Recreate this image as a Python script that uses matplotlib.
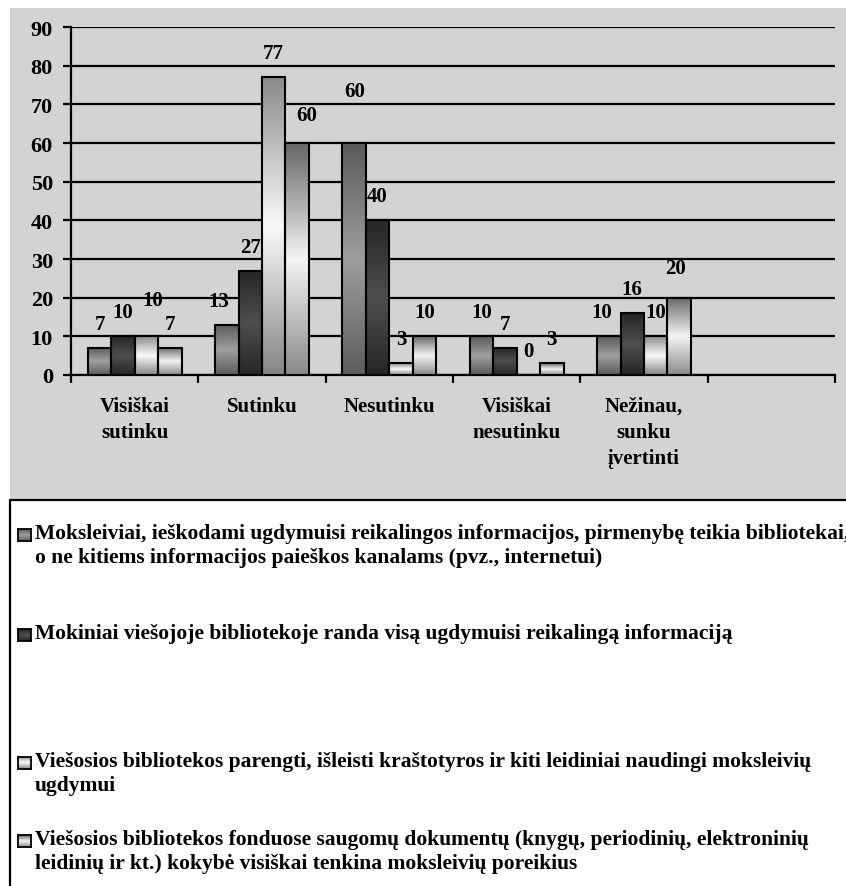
import numpy as np
import matplotlib
matplotlib.use("Agg")
import matplotlib.pyplot as plt
from matplotlib.patches import Rectangle
from matplotlib.colors import LinearSegmentedColormap

plt.rcParams['font.family'] = ['Liberation Serif', 'DejaVu Serif']
plt.rcParams['font.weight'] = 'bold'

# duomenys
kategorijos = ['Visiškai\nsutinku', 'Sutinku', 'Nesutinku', 'Visiškai\nnesutinku',
               'Nežinau,\nsunku\nįvertinti']
serija1 = [7, 13, 60, 10, 10]
serija2 = [10, 27, 40, 7, 16]
serija3 = [10, 77, 3, 0, 10]
serija4 = [7, 60, 10, 3, 20]
pavadinimai = [
    'Moksleiviai, ieškodami ugdymuisi reikalingos informacijos, pirmenybę teikia bibliotekai,\n'
    'o ne kitiems informacijos paieškos kanalams (pvz., internetui)',
    'Mokiniai viešojoje bibliotekoje randa visą ugdymuisi reikalingą informaciją',
    'Viešosios bibliotekos parengti, išleisti kraštotyros ir kiti leidiniai naudingi moksleivių\n'
    'ugdymui',
    'Viešosios bibliotekos fonduose saugomų dokumentų (knygų, periodinių, elektroninių\n'
    'leidinių ir kt.) kokybė visiškai tenkina moksleivių poreikius',
]
y_ticks = [0, 10, 20, 30, 40, 50, 60, 70, 80, 90]

# etikeciu pastumimai (serija, kategorija) -> (dx, dy) pikseliais
pastumimai = {(2, 0): (6, 12), (0, 1): (-8, 0), (3, 1): (10, 4),
              (0, 2): (0, 28), (0, 4): (-7, 0), (3, 4): (-4, 6)}

# gradientai (virsus -> apacia)
gradientai = [
    ['#5a5a5a', '#9e9e9e', '#5c5c5c'],
    ['#262626', '#4e4e4e', '#262626'],
    ['#8a8a8a', '#fafafa', '#858585'],
    ['#666666', '#f4f4f4', '#8a8a8a'],
]
cmaps = [LinearSegmentedColormap.from_list('g%d' % i, c) for i, c in enumerate(gradientai)]
grad = np.linspace(0, 1, 256).reshape(-1, 1)

W, H = 846, 887
fig = plt.figure(figsize=(W / 100, H / 100), dpi=100)
fig.patch.set_facecolor('white')

# pilkas fonas
fig.patches.append(Rectangle((10 / W, 1 - 500 / H), 1.0, 491 / H, transform=fig.transFigure,
                             facecolor='#d3d3d3', edgecolor='none', zorder=-2))

ax = fig.add_axes([71 / W, 1 - 376 / H, (835 - 71) / W, (376 - 28) / H], zorder=1)
ax.set_facecolor('none')

serijos = [serija1, serija2, serija3, serija4]
bw = 0.184
x = np.arange(len(kategorijos))
for i, s in enumerate(serijos):
    xs = x + (i - 1.5) * bw
    bars = ax.bar(xs, s, bw, facecolor='none', edgecolor='black', linewidth=1.5, zorder=4)
    for r, v in zip(bars, s):
        if v <= 0:
            continue
        x0 = r.get_x()
        ax.imshow(grad, cmap=cmaps[i], aspect='auto', origin='upper',
                  extent=[x0, x0 + bw, 0, v], zorder=3, interpolation='bilinear')
    for j, (r, v) in enumerate(zip(bars, s)):
        dx, dy = pastumimai.get((i, j), (0, 0))
        ax.annotate(str(v), (r.get_x() + bw / 2, v), xytext=(dx, 24 + dy),
                    textcoords='offset pixels', ha='center', va='center',
                    fontsize=15, fontweight='bold', zorder=5)

ax.set_xlim(-0.5, 5.5)
ax.set_ylim(0, 90)
ax.set_yticks(y_ticks)
ax.yaxis.grid(True, color='black', linewidth=1.6, zorder=1)
ax.set_axisbelow(True)
ax.set_xticks(np.arange(-0.5, 6, 1.0))
ax.set_xticklabels([])
ax.tick_params(axis='x', length=6, width=1.6, direction='out', color='black')
ax.tick_params(axis='y', length=6, width=1.6, direction='out', color='black', labelsize=16, pad=7)
for lbl in ax.get_yticklabels():
    lbl.set_fontweight('bold')
for sp in ['top', 'right']:
    ax.spines[sp].set_visible(False)
for sp in ['left', 'bottom']:
    ax.spines[sp].set_linewidth(1.6)

for xi, k in zip(x, kategorijos):
    ax.annotate(k, (xi, 0), xycoords=('data', 'axes fraction'), xytext=(0, -21),
                textcoords='offset pixels', ha='center', va='top', fontsize=15,
                fontweight='bold', linespacing=1.4, annotation_clip=False)

# legenda
fig.patches.append(Rectangle((10 / W, -0.1), 1.0, 0.1 + 1 - 501 / H, transform=fig.transFigure,
                             facecolor='white', edgecolor='black', linewidth=1.6, zorder=-1))
eilutes_y = [536, 636, 764, 842]
for i, (pav, yy) in enumerate(zip(pavadinimai, eilutes_y)):
    fig.text(35 / W, 1 - (yy - 12) / H, pav, ha='left', va='top', fontsize=15.5,
             fontweight='bold', linespacing=1.28, zorder=3)
    mx = fig.add_axes([18 / W, 1 - (yy + 6) / H, 13 / W, 12 / H], zorder=3)
    mx.imshow(grad, cmap=cmaps[i], aspect='auto', interpolation='bilinear')
    mx.set_xticks([])
    mx.set_yticks([])
    for sp in mx.spines.values():
        sp.set_linewidth(1.3)

fig.savefig('out.png', dpi=100)
plt.close()
